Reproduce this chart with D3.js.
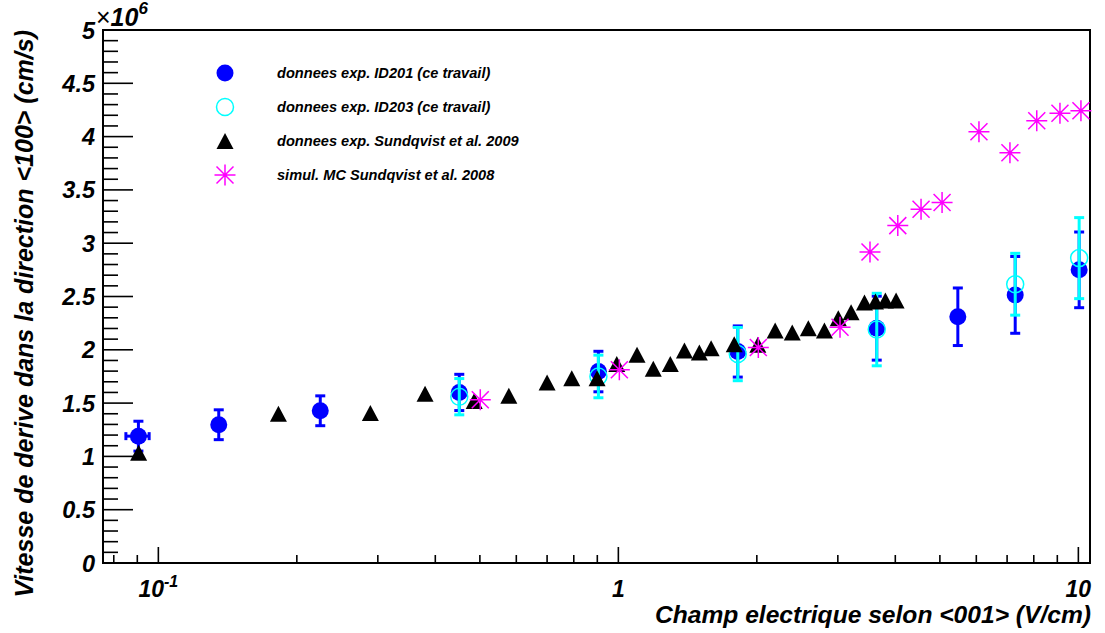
<!DOCTYPE html>
<html><head><meta charset="utf-8">
<script src="https://cdn.jsdelivr.net/npm/d3@7"></script>
<style>
body{margin:0;background:#fff}
text{font-family:"Liberation Sans",Arial,sans-serif;font-weight:bold;font-style:italic;fill:#000}
</style>
</head><body>
<svg id="c" width="1105" height="633"></svg>
<script>
// ---- data (velocity in units of 1e6 cm/s, field in V/cm) ----
const id201X = [0.0905, 0.1353, 0.2249, 0.451, 0.905, 1.818, 3.645, 5.47, 7.29, 10.04];
const id201Y = [1.19, 1.297, 1.428, 1.60, 1.796, 1.984, 2.203, 2.31, 2.515, 2.75];
const id201Err = [0.14, 0.14, 0.14, 0.17, 0.19, 0.24, 0.30, 0.27, 0.36, 0.355];
const id201XLo = [0.085, null, null, null, null, null, null, null, null, null];
const id201XHi = [0.0955, null, null, null, null, null, null, null, null, null];

const id203X = [0.451, 0.905, 1.818, 3.645, 7.29, 10.04];
const id203Y = [1.56, 1.75, 1.96, 2.19, 2.615, 2.86];
const id203Err = [0.17, 0.20, 0.25, 0.34, 0.29, 0.38];

const sundX = [0.0906, 0.1824, 0.289, 0.380, 0.486, 0.578, 0.700, 0.792, 0.899, 0.992, 1.098, 1.191, 1.297, 1.392, 1.50, 1.591, 1.786, 2.01, 2.192, 2.388, 2.588, 2.805, 3.007, 3.206, 3.428, 3.622, 3.806, 4.016];
const sundY = [1.034, 1.40, 1.406, 1.587, 1.52, 1.57, 1.693, 1.734, 1.734, 1.866, 1.953, 1.822, 1.866, 1.993, 1.975, 2.015, 2.053, 2.047, 2.18, 2.162, 2.203, 2.18, 2.297, 2.353, 2.443, 2.452, 2.462, 2.462];

const mcX = [0.501, 1.005, 2.015, 3.033, 3.524, 4.05, 4.55, 5.055, 6.08, 7.10, 8.12, 9.12, 10.13];
const mcY = [1.531, 1.812, 2.021, 2.212, 2.918, 3.165, 3.318, 3.381, 4.046, 3.849, 4.149, 4.219, 4.243];

const legendLabels = ["donnees exp. ID201 (ce travail)", "donnees exp. ID203 (ce travail)", "donnees exp. Sundqvist et al. 2009", "simul. MC Sundqvist et al. 2008"];
const yTickLabels = ["0", "0.5", "1", "1.5", "2", "2.5", "3", "3.5", "4", "4.5", "5"];
const xTickValues = [0.1, 1, 10];
const xAxisTitle = "Champ electrique selon <001> (V/cm)";
const yAxisTitle = "Vitesse de derive dans la direction <100> (cm/s)";

// ---- layout ----
const L = 103, R = 1090, T = 30, B = 563;
const svg = d3.select("#c");
const x = d3.scaleLog().domain([0.0758, 10.6]).range([L, R]);
const y = d3.scaleLinear().domain([0, 5]).range([B, T]);

const BLUE = "#0000ff", CYAN = "#00ffff", MAG = "#ff00ff";

// ---- frame ----
svg.append("rect").attr("x", L).attr("y", T).attr("width", R - L).attr("height", B - T)
  .attr("fill", "none").attr("stroke", "#000").attr("stroke-width", 2);

// ---- y ticks ----
const yMinor = d3.range(0, 51).map(i => i / 10);
svg.append("g").selectAll("line").data(yMinor).join("line")
  .attr("x1", L).attr("x2", (d, i) => L + (i % 5 === 0 ? 30 : 15))
  .attr("y1", d => y(d)).attr("y2", d => y(d))
  .attr("stroke", "#000").attr("stroke-width", 1.6);
svg.append("g").selectAll("text").data(yTickLabels).join("text")
  .attr("x", 95).attr("y", (d, i) => y(i * 0.5) + 8.5)
  .attr("text-anchor", "end").style("font-size", "23.5px").text(d => d);

// ---- x ticks ----
const xTicks = x.ticks().filter(d => d >= x.domain()[0] && d <= x.domain()[1]);
svg.append("g").selectAll("line").data(xTicks).join("line")
  .attr("x1", d => x(d)).attr("x2", d => x(d))
  .attr("y1", B).attr("y2", d => B - (xTickValues.includes(+d.toPrecision(3)) ? 16 : 8))
  .attr("stroke", "#000").attr("stroke-width", 1.6);
// labels
const xl = svg.append("g");
const t1 = xl.append("text").attr("x", x(0.1)).attr("y", 597).attr("text-anchor", "middle").style("font-size", "23px");
t1.append("tspan").text("10");
t1.append("tspan").attr("dy", -10).style("font-size", "16px").text("-1");
xl.append("text").attr("x", x(1)).attr("y", 597).attr("text-anchor", "middle").style("font-size", "23px").text("1");
xl.append("text").attr("x", x(10)).attr("y", 597).attr("text-anchor", "middle").style("font-size", "23px").text("10");

// exponent
const ex = svg.append("text").attr("x", 96).attr("y", 26).style("font-size", "25px");
ex.append("tspan").style("font-style", "normal").style("font-weight", "normal").text("\u00d7");
ex.append("tspan").text("10");
ex.append("tspan").attr("dy", -12).style("font-size", "17px").text("6");

// ---- titles ----
svg.append("text").attr("x", 1091).attr("y", 623).attr("text-anchor", "end")
  .style("font-size", "24.6px").text(xAxisTitle);
svg.append("text").attr("transform", "translate(33,30) rotate(-90)").attr("text-anchor", "end")
  .style("font-size", "25px").text(yAxisTitle);

// ---- markers ----
const triPath = "M0,-8 L8.5,8 L-8.5,8 Z";
function starPath(r, d) {
  return `M${-r},0L${r},0M0,${-r}L0,${r}M${-d},${-d}L${d},${d}M${-d},${d}L${d},${-d}`;
}
const plot = svg.append("g");

function errBars(g, xs, ys, es, color, cw) {
  g.selectAll(null).data(xs).join("line")
    .attr("x1", d => x(d)).attr("x2", d => x(d))
    .attr("y1", (d, i) => y(ys[i] - es[i])).attr("y2", (d, i) => y(ys[i] + es[i]))
    .attr("stroke", color).attr("stroke-width", 3);
  ["-", "+"].forEach(s => {
    g.selectAll(null).data(xs).join("line")
      .attr("x1", d => x(d) - cw).attr("x2", d => x(d) + cw)
      .attr("y1", (d, i) => y(ys[i] + (s === "+" ? es[i] : -es[i])))
      .attr("y2", (d, i) => y(ys[i] + (s === "+" ? es[i] : -es[i])))
      .attr("stroke", color).attr("stroke-width", 3);
  });
}

// ID201
const gB = plot.append("g");
errBars(gB, id201X, id201Y, id201Err, BLUE, 5);
id201X.forEach((d, i) => {
  if (id201XLo[i] != null) {
    gB.append("line").attr("x1", x(id201XLo[i])).attr("x2", x(id201XHi[i]))
      .attr("y1", y(id201Y[i])).attr("y2", y(id201Y[i])).attr("stroke", BLUE).attr("stroke-width", 3);
    [id201XLo[i], id201XHi[i]].forEach(v => gB.append("line").attr("x1", x(v)).attr("x2", x(v))
      .attr("y1", y(id201Y[i]) - 4).attr("y2", y(id201Y[i]) + 4).attr("stroke", BLUE).attr("stroke-width", 3));
  }
});
gB.selectAll("circle").data(id201X).join("circle")
  .attr("cx", d => x(d)).attr("cy", (d, i) => y(id201Y[i])).attr("r", 8.5).attr("fill", BLUE);

// ID203
const gC = plot.append("g");
gC.selectAll("circle").data(id203X).join("circle")
  .attr("cx", d => x(d)).attr("cy", (d, i) => y(id203Y[i])).attr("r", 8.5)
  .attr("fill", "none").attr("stroke", CYAN).attr("stroke-width", 1.5);
errBars(gC, id203X, id203Y, id203Err, CYAN, 5);

// Sundqvist 2009
plot.append("g").selectAll("path").data(sundX).join("path")
  .attr("d", triPath).attr("transform", (d, i) => `translate(${x(d)},${y(sundY[i])})`).attr("fill", "#000");

// MC 2008
plot.append("g").selectAll("path").data(mcX).join("path")
  .attr("d", starPath(10.5, 8.5)).attr("transform", (d, i) => `translate(${x(d)},${y(mcY[i])})`)
  .attr("stroke", MAG).attr("stroke-width", 1.5).attr("fill", "none");

// ---- legend ----
const leg = svg.append("g");
const legY = [73, 107, 141, 175];
leg.selectAll("text").data(legendLabels).join("text")
  .attr("x", 277).attr("y", (d, i) => legY[i] + 5).style("font-size", "14.6px").text(d => d);
leg.append("circle").attr("cx", 225).attr("cy", legY[0]).attr("r", 8.5).attr("fill", BLUE);
leg.append("circle").attr("cx", 225).attr("cy", legY[1]).attr("r", 8.5).attr("fill", "none").attr("stroke", CYAN).attr("stroke-width", 1.5);
leg.append("path").attr("d", triPath).attr("transform", `translate(225,${legY[2]})`).attr("fill", "#000");
leg.append("path").attr("d", starPath(10.5, 8.5)).attr("transform", `translate(225,${legY[3]})`)
  .attr("stroke", MAG).attr("stroke-width", 1.5).attr("fill", "none");
</script>
</body></html>
